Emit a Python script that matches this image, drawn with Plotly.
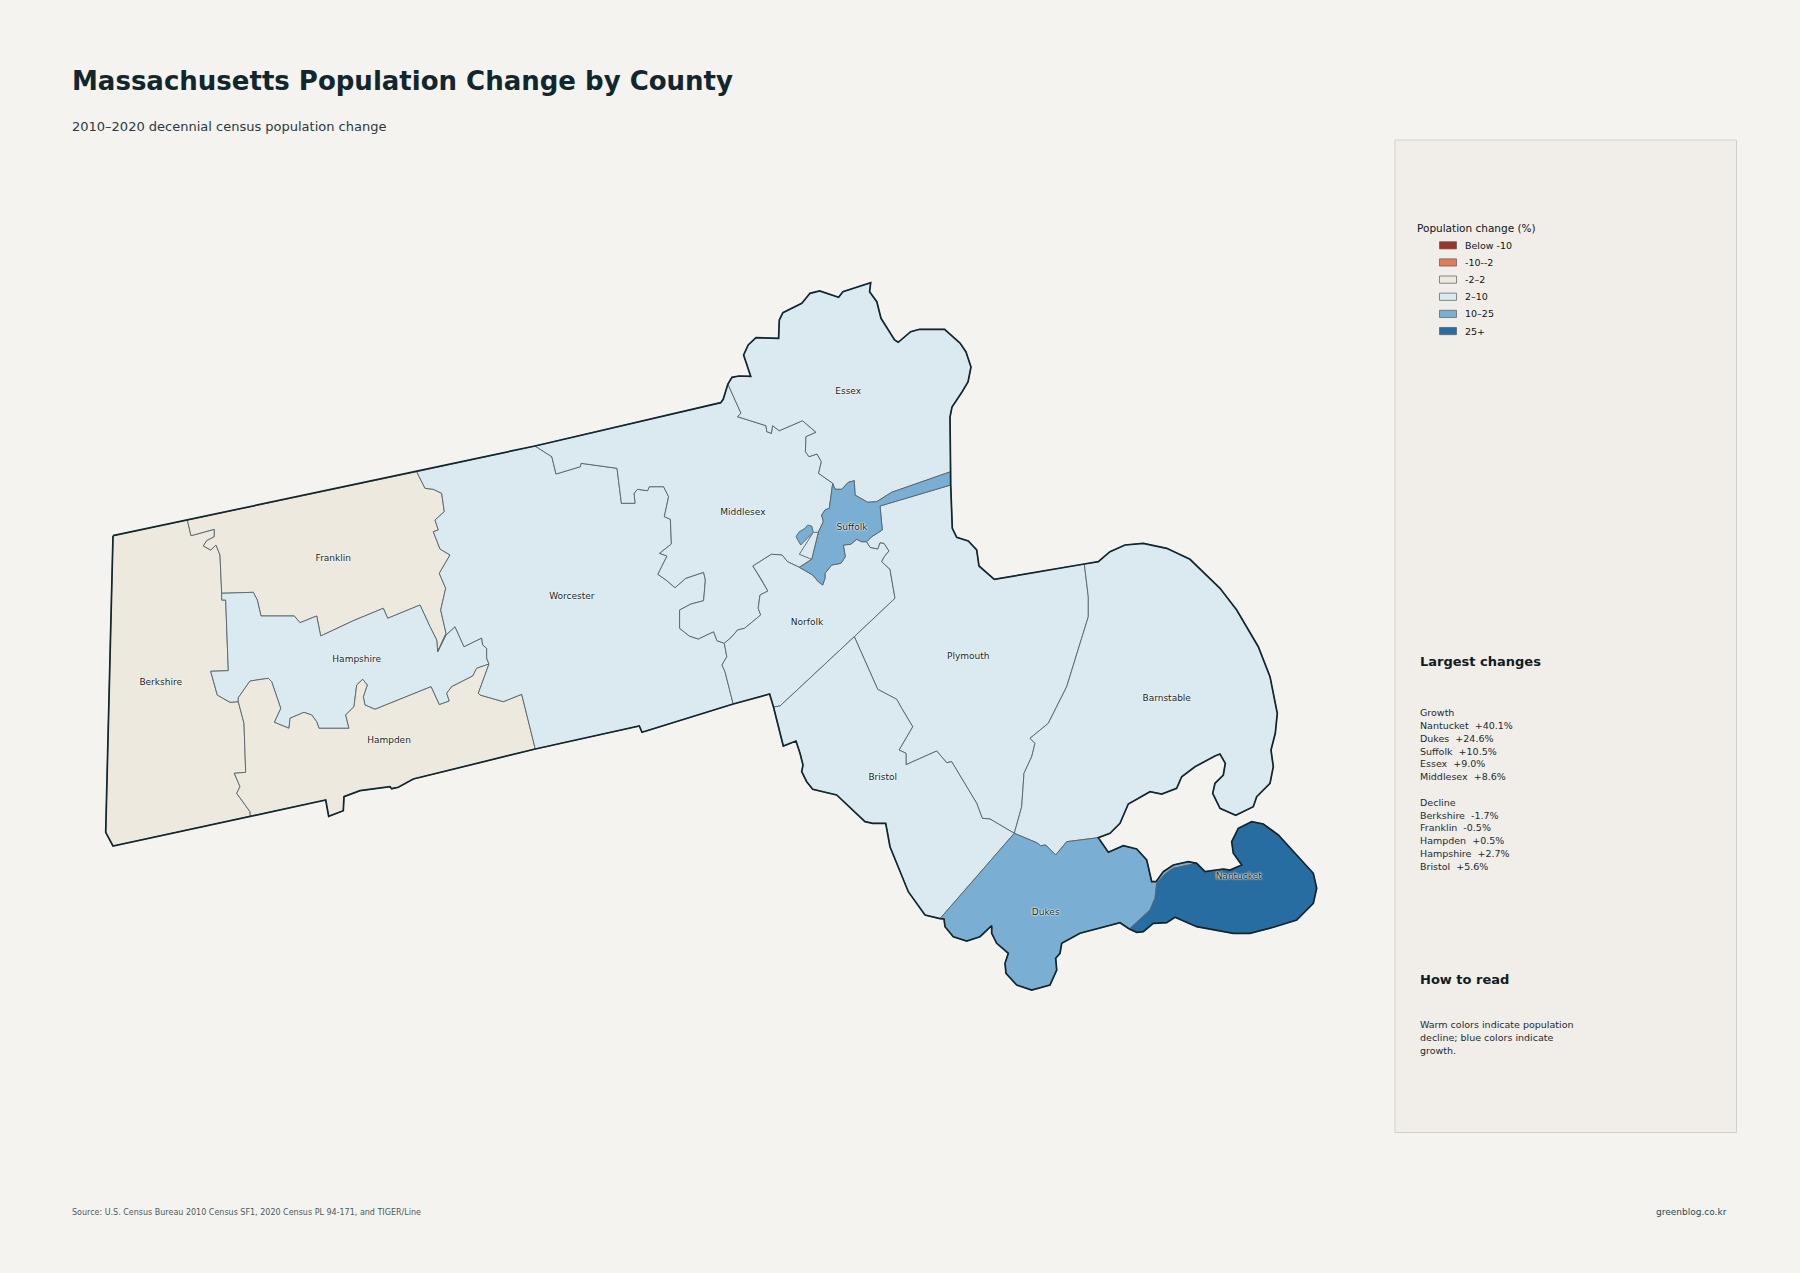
import plotly.graph_objects as go

# county values (% change 2010-2020), the ones not printed on the chart are estimates
counties = ["Berkshire", "Franklin", "Hampshire", "Hampden", "Worcester", "Middlesex", "Essex",
            "Norfolk", "Plymouth", "Bristol", "Barnstable", "Dukes", "Nantucket", "Suffolk"]
change = [-1.7, -0.5, 2.7, 0.5, 8.3, 8.6, 9.0, 8.4, 8.0, 5.6, 6.4, 24.6, 40.1, 10.5]

# label anchor of each county on the map
label_x = [160.7, 333.3, 356.7, 389, 571.8, 742.9, 848.2, 807, 968.3, 882.7, 1166.7, 1045.7, 1238.7, 852]
label_y = [682.3, 559, 660, 740.7, 596.7, 512.7, 391.7, 622.3, 656.7, 777.3, 698.3, 912.3, 877, 527.7]

# legend classes
class_labels = ["Below -10", "-10--2", "-2-2", "2-10", "10-25", "25+"]
class_labels = [s.replace("2-10", "2–10").replace("10-25", "10–25").replace("-2-2", "-2–2") for s in class_labels]
class_edges = [-10, -2, 2, 10, 25]
class_colors = ["#9c322c", "#e07b5b", "#ede9df", "#dbe9f1", "#7aaed3", "#286da1"]

growth_lines = ["Growth", "Nantucket  +40.1%", "Dukes  +24.6%", "Suffolk  +10.5%", "Essex  +9.0%", "Middlesex  +8.6%"]
decline_lines = ["Decline", "Berkshire  -1.7%", "Franklin  -0.5%", "Hampden  +0.5%", "Hampshire  +2.7%", "Bristol  +5.6%"]
read_lines = ["Warm colors indicate population", "decline; blue colors indicate", "growth."]

# boundary arcs in map units, shared between neighbouring counties
north_west = [(113, 535.7), (187.3, 520)]
north_franklin = [(187.3, 520), (416.7, 471.7)]
north_worcester = [(416.7, 471.7), (535, 446)]
north_middlesex = [(535, 446), (720.7, 402.7), (723.2, 399.3), (727.9, 384)]
coast_essex = [(727.9, 384), (732, 377.3), (739, 376), (750.7, 376.3), (743.6, 355), (748.2, 345), (756, 337.7),
               (778.6, 338.3), (779.3, 320), (782.9, 312.7), (801.8, 303.3), (810, 293.3), (819.6, 291), (838.6, 297.3),
               (842.9, 291.7), (870.7, 282.7), (869.6, 291.7), (876.8, 301.7), (881, 318.3), (894.6, 340), (898.2, 342.3),
               (910.7, 331.7), (919.6, 329.3), (944.6, 329.3), (960, 343), (966, 352), (971, 367), (968, 382), (962, 392),
               (957, 400), (952, 407), (950, 417), (950.7, 460), (950.7, 471.7)]
coast_suffolk = [(950.7, 471.7), (950.7, 485)]
coast_plymouth = [(950.7, 485), (952.3, 528.3), (956.7, 537.3), (968.3, 541), (976.7, 550), (979, 566), (994.3, 579.3),
                  (1084.3, 564)]
coast_barnstable = [(1084.3, 564), (1098.3, 561.7), (1110, 551.7), (1125, 545), (1143.3, 543.3), (1166.7, 548.3),
                    (1190, 559.3), (1220, 588.3), (1236.7, 610), (1258.3, 646.7), (1270, 676.7), (1277.3, 713.3),
                    (1275.3, 733.3), (1271, 750), (1273.3, 766.7), (1270, 783.3), (1256.7, 796.7), (1253.3, 806.7),
                    (1235.7, 815.3), (1220, 808.3), (1212.7, 793.3), (1215, 783.3), (1223.3, 775), (1225.3, 763.3),
                    (1220, 754), (1215, 756), (1195, 766.7), (1181.7, 776.7), (1176.7, 788.3), (1161.7, 794), (1150, 791.7),
                    (1128.3, 804), (1120, 823.3), (1110, 833.3), (1098.3, 837.7)]
coast_dukes_north = [(1098.3, 837.7), (1108.3, 852.3), (1123.3, 845.7), (1136.7, 849), (1146.7, 860), (1151.7, 881.7),
                     (1156, 881.7), (1163.3, 871.7), (1173.3, 865), (1188.3, 861.7), (1196.7, 863.3)]
coast_nantucket = [(1196.7, 863.3), (1205, 871.7), (1223.3, 869), (1230, 870), (1241.7, 865), (1233.3, 853.3),
                   (1231.7, 841.7), (1238.3, 828.3), (1251.7, 821.7), (1263.3, 824), (1278.3, 835), (1313.3, 873.3),
                   (1316.7, 888.3), (1313.3, 903.3), (1296.7, 920), (1273.3, 927.3), (1250, 933.3), (1233.3, 933.3),
                   (1196.7, 926.7), (1175, 917.3), (1166.7, 922.7), (1153.3, 923.3), (1143.3, 931.7), (1136.7, 932.3),
                   (1129.3, 929)]
coast_dukes_south = [(1129.3, 929), (1120, 922.7), (1080, 933.3), (1061.7, 943.3), (1060, 953.3), (1055.7, 958.3),
                     (1056.7, 970), (1050, 985), (1031.7, 990), (1016.7, 985), (1006, 973.3), (1005, 963.3), (1008.3, 953.3),
                     (996.7, 943.3), (991.7, 933.3), (991.7, 925.7), (980, 936.7), (966.7, 941), (953.3, 936.7), (945, 926.7),
                     (944, 919), (940, 918.7)]
coast_bristol = [(773.5, 707), (783.3, 746), (796, 741), (800, 753.3), (803, 765), (801.7, 771.7), (806.7, 781.7),
                 (812.7, 789.3), (836.7, 795), (865, 821.7), (872.7, 823.3), (885.7, 823.3), (888.3, 836.7), (890, 846.7),
                 (908.3, 891.7), (925, 915), (940, 918.7)]
south_norfolk = [(773.5, 707), (769.6, 694), (733.2, 704)]
south_worcester = [(733.2, 704), (642, 732.3), (639.3, 726), (535.3, 749)]
south_hampden = [(250.3, 816.3), (325.7, 800), (328.7, 816.3), (343.3, 810.7), (344, 796.7), (360, 790.7), (390, 786.7),
                 (391.7, 788.7), (398.3, 787.3), (413.3, 779), (535.3, 749)]
south_berkshire = [(250.3, 816.3), (113, 846), (105.7, 832.3)]

berkshire_franklin = [(187.3, 520), (191, 535.7), (214.3, 529.3), (214.3, 536.7), (206.7, 540.7), (203.3, 546), (210.7, 550),
                      (216, 545), (220, 555), (221.7, 593.3)]
berkshire_hampshire = [(221.7, 593.3), (221.7, 600), (225.7, 600), (228.3, 670.7), (210.7, 671.3), (217.3, 695),
                       (230, 702.3), (238.3, 701.7)]
berkshire_hampden = [(238.3, 701.7), (244, 723.3), (245.7, 772.3), (234.3, 773.3), (240, 786.7), (236.7, 793.3), (250, 811.7),
                     (250.3, 816.3)]
franklin_hampshire = [(221.7, 593.3), (253.3, 592.3), (257.3, 600), (261, 616), (294.3, 616), (300, 622.7), (316.7, 616),
                      (320.7, 636), (353.3, 620.7), (383.3, 608.3), (387.7, 618.3), (420, 605), (430, 626.7), (436.7, 640),
                      (437.7, 651.7)]
franklin_worcester = [(437.7, 651.7), (446, 633.3), (440.7, 610), (445.7, 588.3), (439.3, 573.3), (450, 555), (440, 549),
                      (433.3, 531.7), (438.3, 530), (435, 520), (444.3, 511.7), (441.7, 493.3), (433.3, 489.3), (425, 488.3),
                      (416.7, 471.7)]
hampshire_worcester = [(437.7, 651.7), (446, 635), (455, 626.7), (464, 646.7), (481.7, 638), (482.7, 645), (486.7, 648.3),
                       (486.7, 658.3), (489, 664)]
hampshire_hampden = [(489, 664), (476.7, 668.3), (472.7, 676), (451.7, 686.7), (446.7, 693.3), (449.3, 701), (439.3, 704.7),
                     (431, 686.7), (375, 709.3), (365, 705), (363.3, 696.7), (367.3, 685), (362.7, 679.3), (356.7, 685),
                     (354, 706.7), (345.7, 715), (349, 728.3), (319, 728.3), (316.7, 721.7), (311.7, 715), (304, 712.3),
                     (290, 718.3), (289, 728.3), (274.3, 722.3), (280.7, 708.3), (271.7, 681.7), (268.3, 678.3), (250, 681),
                     (238.3, 697.7), (238.3, 701.7)]
hampden_worcester = [(489, 664), (478.3, 693.3), (480, 695), (503.3, 701.7), (521.7, 694.3), (535.3, 749)]
worcester_middlesex = [(535, 446), (551.8, 456.7), (556, 474), (580.4, 466.7), (581, 463.3), (617, 468.3), (621.4, 503.3),
                       (635, 503.3), (634, 493.3), (637.5, 489.3), (647.5, 490.7), (649.3, 486.7), (663.6, 486.7),
                       (668.6, 496.7), (664.3, 516.7), (670.4, 519.3), (671.4, 544), (659.6, 553.3), (667, 556), (657.9, 574.3),
                       (666, 580), (675, 587.7), (685.7, 578.3), (703.6, 572.3), (705.4, 580), (703.6, 600.7), (691, 604),
                       (679.6, 610), (679.6, 628.3), (689.3, 636), (698.2, 639), (713.6, 631.7), (717, 640.7), (724.3, 643.3)]
worcester_norfolk = [(724.3, 643.3), (726.8, 656.7), (722, 665), (725, 671.7), (733.2, 704)]
middlesex_norfolk = [(724.3, 643.3), (732, 636.7), (737.5, 630), (744.6, 628.3), (760.7, 615), (758.2, 608.3), (760, 595),
                     (767.9, 591), (760.7, 578.3), (752.9, 566), (771.4, 554.3), (782, 555), (787.5, 561.7), (799.3, 567.3)]
middlesex_essex = [(727.9, 384), (741, 413.3), (737.5, 416.7), (766, 425.7), (766.8, 431.7), (771.4, 433.3), (772.5, 425.7),
                   (779.3, 430.7), (802.5, 420.7), (816, 432.3), (806, 436.7), (805.4, 451.7), (809, 456.7), (817, 454),
                   (821.4, 461.7), (818.6, 473.3), (832.7, 483.3)]
suffolk_north = [(832.7, 483.3), (835, 489.3), (841.7, 489.3), (848.3, 482.3), (854.3, 480.7), (855, 495), (867.7, 502.3),
                 (876.7, 501.7), (891.7, 492.3), (950.7, 471.7)]
suffolk_plymouth = [(950.7, 485), (880, 506), (882.3, 530), (871.7, 536.7), (866.7, 541.7)]
suffolk_norfolk = [(866.7, 541.7), (861.7, 541.7), (856.7, 539.3), (850.7, 544.3), (843.3, 545), (845.3, 556.7), (841, 563.3),
                   (831.7, 565), (825, 573.3), (825, 578.3), (822.7, 585), (818.3, 581.7), (812.7, 575), (799.3, 567.3)]
suffolk_middlesex = [(799.3, 567.3), (811.7, 559.3), (818.3, 532.3), (823.3, 521.7), (821.7, 515), (825, 510), (829.3, 508.3),
                     (832.7, 483.3)]
suffolk_lobe = [(796, 536.7), (800.7, 545), (813.3, 532.3), (811.7, 526), (807.7, 525), (805, 528.3), (799.3, 531.7)]
norfolk_enclave = [(799.3, 554.3), (811.7, 559.3), (818.3, 532.3), (813.3, 532.3)]
norfolk_exclave = [(929.3, 492.3), (911.7, 545), (907.3, 550), (908.3, 556.7), (906.7, 560.7), (919.3, 571.7), (928.3, 561.7),
                   (927.3, 548.3), (946, 486.7)]
norfolk_plymouth = [(866.7, 541.7), (870, 547.3), (877.7, 549), (880, 542.7), (884, 543.3), (889, 551), (884.3, 556.7),
                    (881.7, 561.7), (890, 569.3), (895, 598.3), (854.3, 636.7)]
norfolk_bristol = [(854.3, 636.7), (780, 706), (773.5, 707)]
bristol_plymouth = [(854.3, 636.7), (877.7, 689.3), (896.7, 699.3), (901.7, 708.3), (912.7, 726.7), (899, 750), (906, 753.3),
                    (906, 764.7), (936.7, 751), (946.7, 762.7), (951.7, 761.7), (976.7, 803.3), (982.3, 818.3), (990, 819),
                    (1014.3, 833.3)]
plymouth_barnstable = [(1084.3, 564), (1088.3, 596.7), (1088.3, 616.7), (1066.7, 686.7), (1048.3, 723.3), (1030, 738.3),
                       (1035, 743.3), (1031.7, 756.7), (1024, 773.3), (1021.7, 806.7), (1014.3, 833.3)]
barnstable_dukes = [(1098.3, 837.7), (1066.7, 841.7), (1055.7, 855), (1045.7, 845), (1040.7, 845.7), (1036.7, 842.7),
                    (1014.3, 833.3)]
bristol_dukes = [(940, 918.7), (1014.3, 833.3)]
nantucket_dukes = [(1129.3, 929), (1150, 910), (1155, 898.3), (1156.7, 883.3), (1165, 874), (1173.3, 868.3), (1196.7, 863.3)]


def rev(arc):
    return arc[::-1]


rings = {
    "Berkshire": north_west + berkshire_franklin + berkshire_hampshire + berkshire_hampden + south_berkshire,
    "Franklin": north_franklin + rev(franklin_worcester) + rev(franklin_hampshire) + rev(berkshire_franklin),
    "Hampshire": franklin_hampshire + hampshire_worcester + hampshire_hampden + rev(berkshire_hampshire),
    "Hampden": rev(hampshire_hampden) + hampden_worcester + rev(south_hampden) + rev(berkshire_hampden),
    "Worcester": north_worcester + worcester_middlesex + worcester_norfolk + south_worcester + rev(hampden_worcester)
                 + rev(hampshire_worcester) + franklin_worcester,
    "Middlesex": north_middlesex + middlesex_essex + rev(suffolk_middlesex) + rev(middlesex_norfolk) + rev(worcester_middlesex),
    "Essex": coast_essex + rev(suffolk_north) + rev(middlesex_essex),
    "Norfolk": middlesex_norfolk + rev(suffolk_norfolk) + norfolk_plymouth + norfolk_bristol + south_norfolk + rev(worcester_norfolk),
    "Plymouth": coast_plymouth + plymouth_barnstable + rev(bristol_plymouth) + rev(norfolk_plymouth) + rev(suffolk_plymouth),
    "Bristol": norfolk_bristol + coast_bristol + bristol_dukes + rev(bristol_plymouth),
    "Barnstable": coast_barnstable + barnstable_dukes + rev(plymouth_barnstable),
    "Dukes": rev(barnstable_dukes) + coast_dukes_north + rev(nantucket_dukes) + coast_dukes_south + bristol_dukes,
    "Nantucket": nantucket_dukes + coast_nantucket,
    "Suffolk": suffolk_north + coast_suffolk + suffolk_plymouth + suffolk_norfolk + suffolk_middlesex,
}
extra_parts = {"Suffolk": [suffolk_lobe], "Norfolk": [norfolk_enclave, norfolk_exclave]}
state_ring = (north_west + north_franklin + north_worcester + north_middlesex + coast_essex + coast_suffolk + coast_plymouth
              + coast_barnstable + coast_dukes_north + coast_nantucket + coast_dukes_south + rev(coast_bristol)
              + south_norfolk + south_worcester + rev(south_hampden) + south_berkshire)

BG = "#f5f3ef"
INK = "#12262e"
EDGE = "#55646a"


def class_color(v):
    for edge, color in zip(class_edges, class_colors):
        if v < edge:
            return color
    return class_colors[-1]


def ring_xy(parts):
    xs, ys = [], []
    for ring in parts:
        xs += [p[0] for p in ring] + [ring[0][0], None]
        ys += [p[1] for p in ring] + [ring[0][1], None]
    return xs, ys


fig = go.Figure()

# panel sits under the map
fig.add_shape(type="rect", x0=1395, x1=1736.5, y0=140, y1=1132.5, fillcolor="#f1eeea",
              line=dict(color="#d2d1c8", width=1), layer="below")

for name, v in zip(counties, change):
    # enclave is drawn after Suffolk below
    parts = [rings[name]] + [p for p in extra_parts.get(name, []) if p is not norfolk_enclave]
    x, y = ring_xy(parts)
    fig.add_trace(go.Scatter(x=x, y=y, mode="lines", fill="toself", fillcolor=class_color(v),
                             line=dict(color=EDGE, width=0.9), name=name, hoverinfo="text",
                             text=f"{name} {v:+.1f}%", showlegend=False))

x, y = ring_xy([norfolk_enclave])
fig.add_trace(go.Scatter(x=x, y=y, mode="lines", fill="toself", fillcolor=class_colors[3],
                         line=dict(color=EDGE, width=0.9), hoverinfo="skip", showlegend=False))

x, y = ring_xy([state_ring])
fig.add_trace(go.Scatter(x=x, y=y, mode="lines", line=dict(color=INK, width=1.7), hoverinfo="skip", showlegend=False))

fig.add_trace(go.Scatter(x=label_x, y=label_y, mode="text", text=counties, textposition="middle center",
                         textfont=dict(family="DejaVu Sans", size=9, color="#101c22",
                                       shadow="0 0 2px #ffffff, 0 0 2px #ffffff, 0 0 1px #ffffff"),
                         hoverinfo="skip", showlegend=False))


def put_text(px, py, s, size, color=INK, bold=False, anchor="left"):
    fig.add_annotation(x=px, y=py, text=f"<b>{s}</b>" if bold else s, showarrow=False, xanchor=anchor, yanchor="middle",
                       align=anchor, xshift=0, yshift=0, borderpad=0,
                       font=dict(family="DejaVu Sans", size=size, color=color))


put_text(71, 80.5, "Massachusetts Population Change by County", 26, "#12262e", True)
put_text(71, 126.5, "2010–2020 decennial census population change", 13, "#2a3a42")

put_text(1416, 227.5, "Population change (%)", 10.5, "#101418")
for i, (lab, col) in enumerate(zip(class_labels, class_colors)):
    yc = 245.3 + i * 17.15
    fig.add_shape(type="rect", x0=1439.5, x1=1456.5, y0=yc - 3.6, y1=yc + 3.6, fillcolor=col,
                  line=dict(color="#5a5a58", width=0.7))
    put_text(1464, yc, lab, 9.5, "#101418")

put_text(1419.3, 661.7, "Largest changes", 13, "#101c22", True)
for i, line in enumerate(growth_lines + [""] + decline_lines):
    if line:
        put_text(1419.3, 712.7 + i * 12.8, line, 9.5, "#1c2a30")

put_text(1419.3, 979.3, "How to read", 13, "#101c22", True)
for i, line in enumerate(read_lines):
    put_text(1419.3, 1024.7 + i * 12.8, line, 9.5, "#1c2a30")

put_text(71, 1212, "Source: U.S. Census Bureau 2010 Census SF1, 2020 Census PL 94-171, and TIGER/Line", 8, "#4a5a60")
put_text(1728, 1212, "greenblog.co.kr", 9, "#1f4a55", anchor="right")

fig.update_layout(
    width=1800, height=1273,
    margin=dict(l=0, r=0, t=0, b=0),
    paper_bgcolor=BG, plot_bgcolor=BG,
    xaxis=dict(range=[0, 1800], visible=False, fixedrange=True),
    yaxis=dict(range=[1273, 0], visible=False, fixedrange=True),
    showlegend=False,
)

fig.write_html("out.html", config=dict(displayModeBar=False),
               post_script="document.body.style.margin='0';document.body.style.overflow='hidden';"
                           "document.body.style.background='" + BG + "';")
